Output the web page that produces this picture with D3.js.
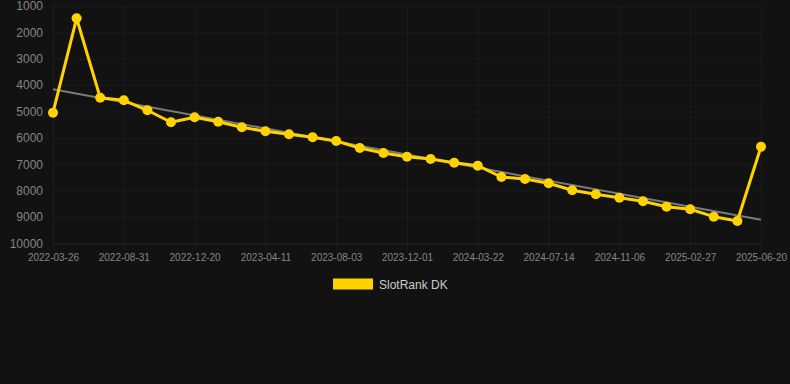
<!DOCTYPE html>
<html>
<head>
<meta charset="utf-8">
<script src="https://cdn.jsdelivr.net/npm/d3@7"></script>
<style>
  html, body { margin: 0; padding: 0; background: #121212; }
  svg { display: block; }
</style>
</head>
<body>
<svg id="chart" width="790" height="384"></svg>
<script>
const dates = ["2022-03-26","2022-05-08","2022-07-20","2022-08-31","2022-10-07","2022-11-13","2022-12-20","2023-01-25","2023-03-05","2023-04-11","2023-05-19","2023-06-26","2023-08-03","2023-09-12","2023-10-22","2023-12-01","2024-01-07","2024-02-14","2024-03-22","2024-04-29","2024-06-06","2024-07-14","2024-08-21","2024-09-29","2024-11-06","2024-12-12","2025-01-20","2025-02-27","2025-04-07","2025-05-14","2025-06-20"];
const ranks = [5046,1466,4477,4576,4955,5410,5221,5388,5600,5752,5865,5979,6119,6385,6575,6715,6802,6942,7056,7485,7561,7724,7989,8141,8270,8406,8611,8710,8990,9153,6336];
const trend = [4160, 9110];
const yTicks = [1000,2000,3000,4000,5000,6000,7000,8000,9000,10000];
const xTickLabels = ["2022-03-26","2022-08-31","2022-12-20","2023-04-11","2023-08-03","2023-12-01","2024-03-22","2024-07-14","2024-11-06","2025-02-27","2025-06-20"];
const seriesName = "SlotRank DK";

(function () {
const svg = d3.select("#chart");
const W = 790, H = 384;
svg.append("rect").attr("width", W).attr("height", H).attr("fill", "#121212");

const mLeft = 53, mRight = 761, mTop = 6, mBottom = 243.3;
const x = d3.scalePoint().domain(dates).range([mLeft, mRight]);
const y = d3.scaleLinear().domain([1000, 10000]).range([mTop, mBottom]);

const gridColor = "rgba(255,255,255,0.045)";

// Y grid + labels
const yAxis = d3.axisLeft(y).tickValues(yTicks).tickSize(mRight - mLeft).tickPadding(10).tickFormat(d3.format("d"));
const gy = svg.append("g").attr("transform", `translate(${mRight},0)`).call(yAxis);
gy.select(".domain").remove();
gy.selectAll("line").attr("stroke", d => d === 10000 ? "rgba(255,255,255,0.08)" : gridColor);
gy.selectAll("text").attr("fill", "#858585").attr("font-family", "Arial, 'Liberation Sans', sans-serif").attr("font-size", 12);

// X grid + labels
const xAxis = d3.axisBottom(x).tickValues(xTickLabels).tickSize(mBottom - mTop + 7).tickPadding(4);
const gx = svg.append("g").attr("transform", `translate(0,${mTop})`).call(xAxis);
gx.select(".domain").remove();
gx.selectAll("line").attr("stroke", gridColor);
gx.selectAll("text").attr("fill", "#858585").attr("font-family", "Arial, 'Liberation Sans', sans-serif").attr("font-size", 10);

// Trend line
svg.append("line")
  .attr("x1", x(dates[0])).attr("y1", y(trend[0]))
  .attr("x2", x(dates[dates.length - 1])).attr("y2", y(trend[1]))
  .attr("stroke", "#7a7a7a").attr("stroke-width", 2);

// Series line
const line = d3.line().x((d, i) => x(dates[i])).y(d => y(d));
svg.append("path").datum(ranks)
  .attr("d", line).attr("fill", "none")
  .attr("stroke", "#FFD300").attr("stroke-width", 3).attr("stroke-linejoin", "round");

svg.append("g").selectAll("circle").data(ranks).join("circle")
  .attr("cx", (d, i) => x(dates[i])).attr("cy", d => y(d)).attr("r", 5)
  .attr("fill", "#FFD300");

// Legend
const lg = svg.append("g");
lg.append("rect").attr("x", 333).attr("y", 278.5).attr("width", 40).attr("height", 11).attr("fill", "#FFD300");
lg.append("text").attr("x", 379).attr("y", 288.5).text(seriesName)
  .attr("fill", "#cccccc").attr("font-family", "Arial, 'Liberation Sans', sans-serif").attr("font-size", 12);
})();
</script>
</body>
</html>
